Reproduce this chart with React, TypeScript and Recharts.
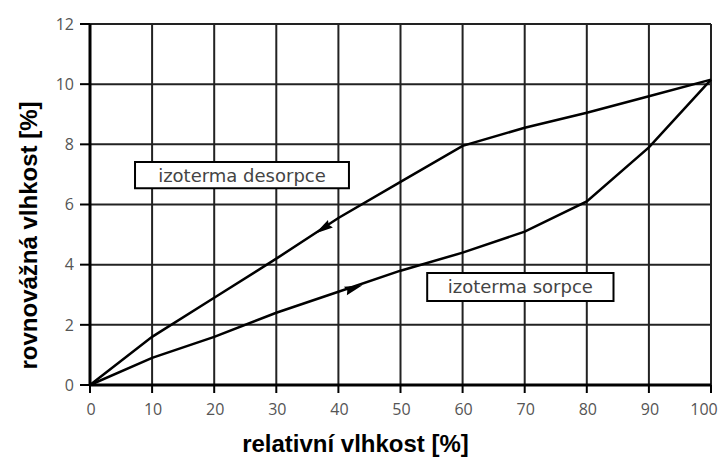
import { CartesianGrid, Line, LineChart, ReferenceArea, XAxis, YAxis } from "recharts";

// relative humidity [%]
const rh = [0, 10, 20, 30, 40, 50, 60, 70, 80, 90, 100];
// equilibrium moisture [%]
const sorpce = [0, 0.9, 1.6, 2.4, 3.1, 3.8, 4.4, 5.1, 6.1, 7.9, 10.15];
const desorpce = [0, 1.6, 2.9, 4.2, 5.55, 6.75, 7.95, 8.55, 9.05, 9.6, 10.15];

const xTicks = [0, 10, 20, 30, 40, 50, 60, 70, 80, 90, 100];
const yTicks = [0, 2, 4, 6, 8, 10, 12];

// arrowheads sitting on the curves
const desorpceArrow = [{ x: 37.5, y: 5.2, angle: 147 }];
const sorpceArrow = [{ x: 42.5, y: 3.22, angle: -19 }];

const sorpceData = rh.map((x, i) => ({ x, y: sorpce[i] }));
const desorpceData = rh.map((x, i) => ({ x, y: desorpce[i] }));

const tickFont = { fill: "#555", fontSize: 16, fontFamily: "Open Sans" };
const boxText = { fill: "#444", fontSize: 18, fontFamily: "DejaVu Sans" };
const axisTitle = { fontSize: 24, fontWeight: "bold", fontFamily: "Liberation Sans", fill: "#000" };

const ArrowDot = (props: any) => {
  const { cx, cy, payload } = props;
  if (cx == null || cy == null) return null;
  return (
    <path
      d="M 9 0 L -9 -4.5 L -7 0 L -9 4.5 Z"
      fill="#000"
      transform={`translate(${cx},${cy}) rotate(${payload.angle})`}
    />
  );
};

const XTick = ({ x, y, payload }: any) => {
  // last label is pulled in a little so it stays on the page
  const dx = payload.value === 100 ? -6 : 1;
  return (
    <text x={x + dx} y={y + 14} textAnchor="middle" dominantBaseline="central" style={tickFont}>
      {payload.value}
    </text>
  );
};

export default function App() {
  return (
    <div style={{ position: "absolute", left: 0, top: 0, width: 722, height: 461, background: "#fff" }}>
      <LineChart
        width={722}
        height={461}
        margin={{ top: 24, right: 11, bottom: 6, left: 0 }}
      >
        <CartesianGrid stroke="#222" strokeWidth={2} horizontalValues={yTicks} verticalValues={xTicks} />
        <XAxis
          type="number"
          dataKey="x"
          domain={[0, 100]}
          ticks={xTicks}
          height={70}
          axisLine={{ stroke: "#000", strokeWidth: 3 }}
          tickLine={{ stroke: "#000", strokeWidth: 2 }}
          tickSize={8}
          tick={<XTick />}
          label={{
            position: "insideBottom",
            content: ({ viewBox }: any) => (
              <text
                x={viewBox.x + viewBox.width / 2 - 45}
                y={viewBox.y + 58}
                textAnchor="middle"
                dominantBaseline="central"
                style={axisTitle}
              >
                relativní vlhkost [%]
              </text>
            ),
          }}
        />
        <YAxis
          type="number"
          dataKey="y"
          domain={[0, 12]}
          ticks={yTicks}
          width={90}
          axisLine={{ stroke: "#000", strokeWidth: 3 }}
          tickLine={{ stroke: "#000", strokeWidth: 2 }}
          tickSize={10}
          tickMargin={6}
          tick={tickFont}
          label={{
            position: "insideLeft",
            content: ({ viewBox }: any) => {
              const x = 28;
              const y = viewBox.y + viewBox.height / 2 + 31;
              return (
                <text
                  x={x}
                  y={y}
                  textAnchor="middle"
                  dominantBaseline="central"
                  transform={`rotate(-90, ${x}, ${y})`}
                  style={axisTitle}
                >
                  rovnovážná vlhkost [%]
                </text>
              );
            },
          }}
        />
        <ReferenceArea
          x1={7.25}
          x2={41.7}
          y1={6.54}
          y2={7.41}
          fill="#fff"
          fillOpacity={1}
          stroke="#000"
          strokeWidth={2}
          label={{ value: "izoterma desorpce", position: "center", style: boxText }}
        />
        <ReferenceArea
          x1={54.3}
          x2={84.3}
          y1={2.79}
          y2={3.72}
          fill="#fff"
          fillOpacity={1}
          stroke="#000"
          strokeWidth={2}
          label={{ value: "izoterma sorpce", position: "center", style: boxText }}
        />
        <Line
          data={desorpceData}
          dataKey="y"
          type="linear"
          stroke="#000"
          strokeWidth={2.5}
          dot={false}
          isAnimationActive={false}
        />
        <Line
          data={sorpceData}
          dataKey="y"
          type="linear"
          stroke="#000"
          strokeWidth={2.5}
          dot={false}
          isAnimationActive={false}
        />
        <Line
          data={desorpceArrow}
          dataKey="y"
          stroke="none"
          dot={<ArrowDot />}
          activeDot={false}
          isAnimationActive={false}
        />
        <Line
          data={sorpceArrow}
          dataKey="y"
          stroke="none"
          dot={<ArrowDot />}
          activeDot={false}
          isAnimationActive={false}
        />
      </LineChart>
    </div>
  );
}
